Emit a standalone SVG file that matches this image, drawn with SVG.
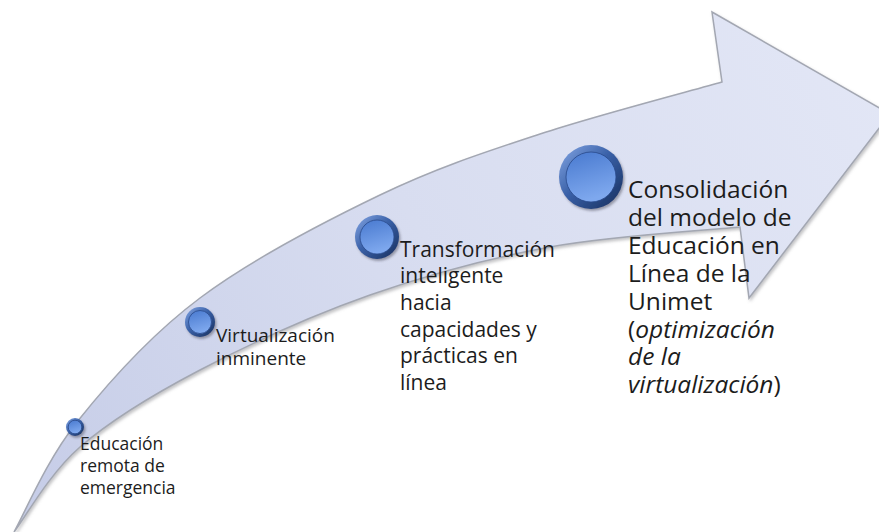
<svg xmlns="http://www.w3.org/2000/svg" width="879" height="532" viewBox="0 0 879 532">
<defs>
<linearGradient id="arrowFill" x1="0" y1="532" x2="879" y2="0" gradientUnits="userSpaceOnUse">
<stop offset="0" stop-color="#c5cce7"/>
<stop offset="0.5" stop-color="#d8ddf0"/>
<stop offset="1" stop-color="#e3e7f6"/>
</linearGradient>
<linearGradient id="rim" x1="0" y1="0" x2="1" y2="1">
<stop offset="0" stop-color="#86a8e6"/>
<stop offset="0.45" stop-color="#3a61a8"/>
<stop offset="1" stop-color="#162d5a"/>
</linearGradient>
<linearGradient id="disk" x1="0" y1="0" x2="0.3" y2="1">
<stop offset="0" stop-color="#4879cf"/>
<stop offset="1" stop-color="#7ea8ee"/>
</linearGradient>
<filter id="shadow" x="-10%" y="-10%" width="120%" height="120%">
<feDropShadow dx="1.5" dy="2" stdDeviation="1.5" flood-color="#7a7a80" flood-opacity="0.45"/>
</filter>
<filter id="bshadow" x="-30%" y="-30%" width="160%" height="160%">
<feDropShadow dx="1.5" dy="2" stdDeviation="1.2" flood-color="#404050" flood-opacity="0.45"/>
</filter>
</defs>
<style>
.arrow { fill: url(#arrowFill); stroke: #a3a7b2; stroke-width: 1.5; stroke-linejoin: miter; filter: url(#shadow); }
.rim { fill: url(#rim); filter: url(#bshadow); }
.disk { fill: url(#disk); stroke: #28498a; stroke-width: 0.8; }
.lbl { font-family: "Open Sans", "Liberation Sans", sans-serif; fill: #1c1c1c; }
.it { font-style: italic; }
</style>
<rect width="879" height="532" fill="#ffffff"/>
<g id="connectors">
<path class="arrow" d="M 14,532 C 24.5,513.7 46,461 77,422 C 108,383 149.5,335.8 200,298 C 250.5,260.2 323.3,222.3 380,195 C 436.7,167.7 483,152.8 540,134 C 597,115.2 691.7,90.7 722,82 L 712,12 L 890,114 L 749,298 L 740,227 C 708.3,230.3 611.7,235.7 550,247 C 488.3,258.3 428.3,274.5 370,295 C 311.7,315.5 248.3,344.7 200,370 C 151.7,395.3 111,420 80,447 C 49,474 25,517.8 14,532 Z"/>
</g>
<g id="node1">
<circle class="rim" cx="75" cy="427" r="9"/>
<circle class="disk" cx="75" cy="427" r="6.8"/>
<text class="lbl" font-size="17.5"><tspan x="80" y="450">Educación</tspan><tspan x="80" y="472">remota de</tspan><tspan x="80" y="494">emergencia</tspan></text>
</g>
<g id="node2">
<circle class="rim" cx="200" cy="322" r="15"/>
<circle class="disk" cx="200" cy="322" r="11.5"/>
<text class="lbl" font-size="19"><tspan x="216" y="342">Virtualización</tspan><tspan x="216" y="365">inminente</tspan></text>
</g>
<g id="node3">
<circle class="rim" cx="377" cy="237" r="22"/>
<circle class="disk" cx="377" cy="237" r="17"/>
<text class="lbl" font-size="21"><tspan x="400" y="257">Transformación</tspan><tspan x="400" y="283">inteligente</tspan><tspan x="400" y="310">hacia</tspan><tspan x="400" y="337">capacidades y</tspan><tspan x="400" y="363">prácticas en</tspan><tspan x="400" y="390">línea</tspan></text>
</g>
<g id="node4">
<circle class="rim" cx="591" cy="177" r="32"/>
<circle class="disk" cx="591" cy="177" r="25"/>
<text class="lbl" font-size="24.5"><tspan x="628" y="198">Consolidación</tspan><tspan x="628" y="226">del modelo de</tspan><tspan x="628" y="254">Educación en</tspan><tspan x="628" y="282">Línea de la</tspan><tspan x="628" y="310">Unimet</tspan><tspan x="628" y="338">(<tspan class="it">optimización</tspan></tspan><tspan x="628" y="365" class="it">de la</tspan><tspan x="628" y="393"><tspan class="it">virtualización</tspan>)</tspan></text>
</g>
</svg>
